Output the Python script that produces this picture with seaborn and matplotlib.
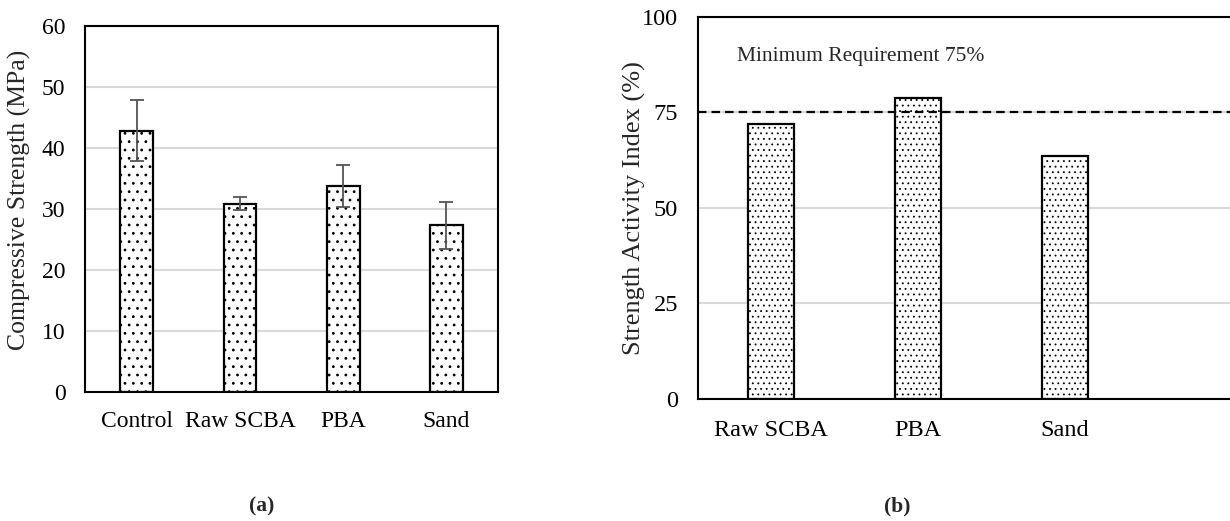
import numpy as np
import pandas as pd
import matplotlib
matplotlib.use("Agg")
import matplotlib.pyplot as plt
import seaborn as sns

# ---- data ----
cats_a = ["Control", "Raw SCBA", "PBA", "Sand"]
strength = [42.8, 30.9, 33.8, 27.3]
strength_err = [5.0, 1.0, 3.4, 3.8]
yticks_a = [0, 10, 20, 30, 40, 50, 60]

cats_b = ["Raw SCBA", "PBA", "Sand"]
sai = [72.0, 78.7, 63.6]
yticks_b = [0, 25, 50, 75, 100]
threshold = 75
threshold_label = "Minimum Requirement 75%"

sns.set_style("white")
plt.rcParams["font.family"] = ["Liberation Serif", "DejaVu Serif"]
plt.rcParams["hatch.color"] = "black"

fig = plt.figure(figsize=(12.3, 5.21), dpi=100)
ax1 = fig.add_axes([0.0691, 0.2476, 0.3358, 0.7025])
ax2 = fig.add_axes([0.5672, 0.2342, 0.4409, 0.7338])

grid_c = "#d9d9d9"

# ---- panel (a) ----
df_a = pd.DataFrame({"cat": cats_a, "val": strength})
sns.barplot(data=df_a, x="cat", y="val", ax=ax1, width=0.317,
            color="white", edgecolor="black", linewidth=1.6, zorder=2)
for p in ax1.patches:
    p.set_hatch("..")
    if hasattr(p, "set_hatch_linewidth"):
        p.set_hatch_linewidth(0.8)
pos_a = np.arange(len(cats_a))
ax1.errorbar(pos_a, strength, yerr=strength_err, fmt="none",
             ecolor="#555555", elinewidth=1.3, capsize=4.8, capthick=1.3, zorder=3)
ax1.set_ylim(0, 60)
ax1.set_xlim(-0.5, len(cats_a) - 0.5)
ax1.set_yticks(yticks_a)
ax1.set_yticklabels([str(v) for v in yticks_a])
ax1.yaxis.grid(True, color=grid_c, lw=1.5)
ax1.set_axisbelow(True)
ax1.set_xlabel("")
ax1.set_ylabel("Compressive Strength (MPa)", fontsize=18.5)
ax1.yaxis.set_label_coords(-0.131, 0.525)
ax1.tick_params(axis="both", length=0, labelsize=17, colors="black")
ax1.tick_params(axis="y", pad=14)
ax1.tick_params(axis="x", pad=14)
for s in ax1.spines.values():
    s.set_color("black")
    s.set_linewidth(1.5)

# ---- panel (b) ----
df_b = pd.DataFrame({"cat": cats_b, "val": sai})
sns.barplot(data=df_b, x="cat", y="val", ax=ax2, width=0.311,
            color="white", edgecolor="black", linewidth=1.6, zorder=2)
for p in ax2.patches:
    p.set_hatch("...")
    if hasattr(p, "set_hatch_linewidth"):
        p.set_hatch_linewidth(0.6)
ax2.axhline(threshold, color="black", lw=1.6, linestyle=(0, (3.8, 2.3)), zorder=4)
ax2.text(-0.234, 89.5, threshold_label, fontsize=15.5, va="center", ha="left")
ax2.set_ylim(0, 100)
ax2.set_xlim(-0.5, 3.19)
ax2.set_yticks(yticks_b)
ax2.set_yticklabels([str(v) for v in yticks_b])
ax2.yaxis.grid(True, color=grid_c, lw=1.5)
ax2.set_axisbelow(True)
ax2.set_xlabel("")
ax2.set_ylabel("Strength Activity Index (%)", fontsize=19)
ax2.yaxis.set_label_coords(-0.0953, 0.5)
ax2.tick_params(axis="both", length=0, labelsize=17.5, colors="black")
ax2.tick_params(axis="y", pad=14)
ax2.tick_params(axis="x", pad=15)
for s in ax2.spines.values():
    s.set_color("black")
    s.set_linewidth(1.5)

fig.text(262 / 1230, 1 - 506 / 521, "(a)", fontsize=15.5, fontweight="bold",
         ha="center", va="center")
fig.text(897 / 1230, 1 - 506 / 521, "(b)", fontsize=15.5, fontweight="bold",
         ha="center", va="center")

fig.savefig("out.png", dpi=100)
